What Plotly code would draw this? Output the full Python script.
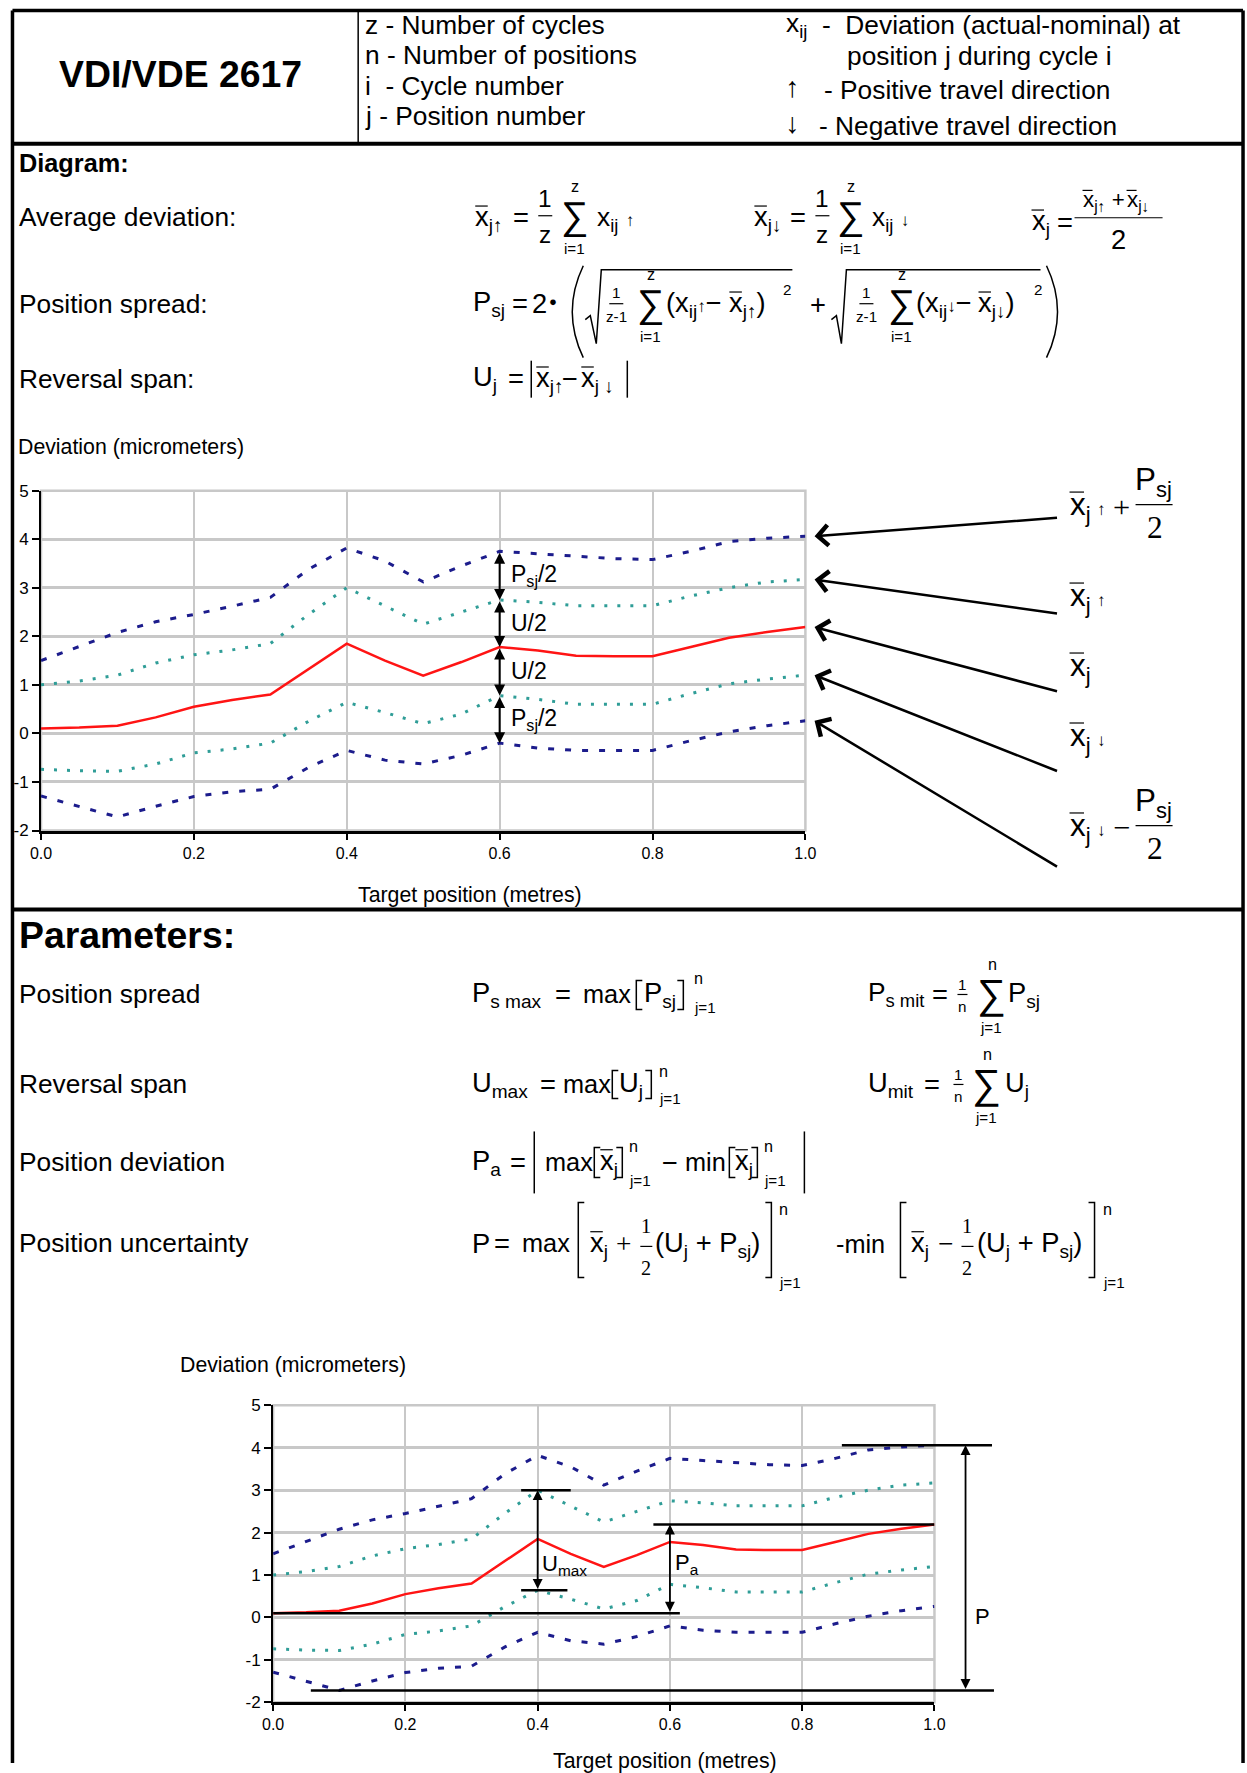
import plotly.graph_objects as go

# ---------------- data ----------------
positions = [0.00, 0.05, 0.10, 0.15, 0.20, 0.25, 0.30, 0.35, 0.40, 0.45, 0.50,
             0.55, 0.60, 0.65, 0.70, 0.75, 0.80, 0.85, 0.90, 0.95, 1.00]
# x̄j↑ + Psj/2
upper_limit = [1.50, 1.79, 2.08, 2.30, 2.45, 2.62, 2.80, 3.38, 3.82, 3.55, 3.12,
               3.45, 3.75, 3.70, 3.65, 3.60, 3.58, 3.75, 3.95, 4.02, 4.06]
# x̄j↑
upper_mean = [1.00, 1.08, 1.20, 1.45, 1.62, 1.72, 1.85, 2.45, 3.00, 2.62, 2.25,
              2.50, 2.75, 2.70, 2.63, 2.63, 2.63, 2.83, 3.00, 3.12, 3.17]
# x̄j
mean_dev = [0.10, 0.12, 0.16, 0.33, 0.55, 0.69, 0.80, 1.33, 1.85, 1.50, 1.19,
            1.47, 1.78, 1.71, 1.60, 1.59, 1.59, 1.78, 1.97, 2.09, 2.19]
# x̄j↓
lower_mean = [-0.74, -0.77, -0.78, -0.63, -0.40, -0.32, -0.20, 0.25, 0.64, 0.43, 0.20,
              0.40, 0.78, 0.70, 0.60, 0.60, 0.60, 0.82, 1.02, 1.12, 1.20]
# x̄j↓ − Psj/2
lower_limit = [-1.29, -1.50, -1.72, -1.50, -1.30, -1.20, -1.15, -0.70, -0.35, -0.55, -0.63,
               -0.45, -0.20, -0.30, -0.35, -0.35, -0.35, -0.15, 0.03, 0.16, 0.26]

x_ticks = [0.0, 0.2, 0.4, 0.6, 0.8, 1.0]
x_tick_labels = ["0.0", "0.2", "0.4", "0.6", "0.8", "1.0"]
y_ticks = [-2, -1, 0, 1, 2, 3, 4, 5]
y_tick_labels = ["-2", "-1", "0", "1", "2", "3", "4", "5"]

spread_labels = ["P<sub>sj</sub>/2", "U/2", "U/2", "P<sub>sj</sub>/2"]
marked_position = 0.6

# ---------------- layout helpers ----------------
# figure size and the mapping page-pixel -> figure-pixel (measured on the rendered page)
W, H = 1256, 1773
OX, SX = 11.0, 0.982
OY, SY = 9.2, 0.9896
FS = 1.012          # font compensation
FONT = "Liberation Sans, Arial, sans-serif"
SERIF = "Liberation Serif, Times New Roman, serif"
NAVY = "#1c1c8c"
TEAL = "#2f9d97"
RED = "#ff1414"
GRID = "#c8c8c8"

X1 = (41, 805)     # chart 1 plot area, page px
Y1 = (491, 831)
X2 = (273, 934)    # chart 2 plot area, page px
Y2 = (1406, 1703)


def px(x):
    return ((x - OX) / SX) / W


def py(y):
    return 1 - ((y - OY) / SY) / H


annotations = []
shapes = []


def T(x, y, s, size=26, anchor="left", family=FONT):
    annotations.append(dict(x=px(x), y=py(y), xref="paper", yref="paper", text=s,
                            showarrow=False, xanchor=anchor, yanchor="middle",
                            font=dict(family=family, size=round(size * FS, 1), color="black")))


def PL(x0, y0, x1, y1, w=1.5):
    shapes.append(dict(type="line", xref="paper", yref="paper", x0=px(x0), y0=py(y0),
                       x1=px(x1), y1=py(y1), line=dict(color="black", width=w)))


def FL(x0, y0, x1, y1, w=4):
    """line in raw paper fractions (page frame at the figure edges)"""
    shapes.append(dict(type="line", xref="paper", yref="paper", x0=x0, y0=y0, x1=x1, y1=y1,
                       line=dict(color="black", width=w)))


def PATH(d, w=1.5):
    res = []
    is_x = True
    for t in d.split():
        if t.isalpha():
            res.append(t)
            is_x = True
        else:
            v = float(t)
            res.append(f"{px(v):.5f}" if is_x else f"{py(v):.5f}")
            is_x = not is_x
    shapes.append(dict(type="path", xref="paper", yref="paper", path=" ".join(res),
                       line=dict(color="black", width=w)))


def XB(x, y, rest="", size=27):
    """x with an overline bar"""
    T(x, y, "x" + rest, size)
    top = y - 0.47 * size
    PL(x + 2, top, x + 1 + 0.5 * size, top, 1.2)


def SUM(cx, cy, top, bottom, size=38):
    T(cx, cy, "∑", size, "center")
    T(cx + 1, cy - 30, top, 16, "center")
    T(cx, cy + 33, bottom, 15, "center")


def FRAC(cx, y, num, den, half, size=17, gap=11, family=FONT):
    T(cx, y - gap, num, size, "center", family)
    PL(cx - half, y, cx + half, y, 1.2)
    T(cx, y + gap + 2, den, size, "center", family)


def LBRK(x, y0, y1, w=1.5):
    PATH(f"M {x+6} {y0} L {x} {y0} L {x} {y1} L {x+6} {y1}", w)


def RBRK(x, y0, y1, w=1.5):
    PATH(f"M {x-6} {y0} L {x} {y0} L {x} {y1} L {x-6} {y1}", w)


# ---------------- page frame ----------------
left_f, right_f, top_f = 1.5 / W, 1 - 2.0 / W, 1 - 1.5 / H
FL(left_f, top_f, right_f, top_f, 3.5)
FL(left_f, 0, left_f, top_f, 3.5)
FL(right_f, 0, right_f, top_f, 3.5)
FL(left_f, py(144), right_f, py(144), 4)
FL(left_f, py(910), right_f, py(910), 4)
PL(358, 10, 358, 144, 1.5)

# ---------------- header ----------------
T(180, 74, "<b>VDI/VDE 2617</b>", 37, "center")
T(363, 25, "z - Number of cycles")
T(363, 55, "n - Number of positions")
T(363, 86, "i\u00a0 - Cycle number")
T(363, 116, "j - Position number")
T(784, 25, "x<sub>ij</sub>")
T(820, 25, "-\u00a0 Deviation (actual-nominal) at")
T(845, 56, "position j during cycle i")
T(783, 87, "↑", 28)
T(822, 90, "- Positive travel direction")
T(783, 123, "↓", 28)
T(817, 126, "- Negative travel direction")

# ---------------- diagram formulas ----------------
T(17, 163, "<b>Diagram:</b>", 25)
T(17, 217, "Average deviation:")
T(17, 304, "Position spread:")
T(17, 379, "Reversal span:")

ARW = "<span style='font-size:17px'>↑</span>"
ARD = "<span style='font-size:17px'>↓</span>"

# x̄j↑ = 1/z Σ xij↑     and    x̄j↓ = 1/z Σ xij↓
for xs, a_sub, arr in (((473, 521, 545, 574, 595), "↑", ARW),
                       ((752, 798, 822, 850, 870), "↓", ARD)):
    XB(xs[0], 219, "<sub>j" + a_sub + "</sub>")
    T(xs[1], 218, "=", 27, "center")
    FRAC(xs[2], 216, "1", "z", 7, 24, 17)
    SUM(xs[3], 216, "z", "i=1")
    T(xs[4], 219, "x<sub>ij</sub> " + arr)

# x̄j = (x̄j↑ + x̄j↓)/2
XB(1029, 223, "<sub>j</sub>")
T(1064, 223, "=", 27, "center")
XB(1080, 201, "<sub>j↑</sub> +", 22)
XB(1124, 201, "<sub>j↓</sub>", 22)
PL(1074, 218, 1162, 218, 1.2)
T(1118, 240, "2", 27, "center")

# Psj
T(471, 304, "P<sub>sj</sub>", 27)
T(520, 304, "=", 27, "center")
T(530, 304, "2", 27)
T(547, 302, "●", 13)
PATH("M 583 266 Q 561 312 583 358", 1.5)
PATH("M 585 320 L 590 316 L 596 344 L 601 270 L 792 270", 1.5)
FRAC(616, 304, "1", "z-1", 7, 15, 11)
SUM(650, 304, "z", "i=1")
T(664, 305, "(x<sub>ij</sub>" + ARW + "−", 27)
XB(727, 305, "<sub>j↑</sub>)", 27)
T(781, 290, "2", 15)
T(818, 305, "+", 27, "center")
PATH("M 831 320 L 836 316 L 841 344 L 846 270 L 1040 270", 1.5)
FRAC(866, 304, "1", "z-1", 7, 15, 11)
SUM(901, 304, "z", "i=1")
T(914, 305, "(x<sub>ij</sub>" + ARD + "−", 27)
XB(976, 305, "<sub>j↓</sub>)", 27)
T(1031, 290, "2", 15)
PATH("M 1046 266 Q 1068 312 1046 358", 1.5)

# Uj
T(471, 379, "U<sub>j</sub>", 27)
T(516, 379, "=", 27, "center")
PL(531, 361, 531, 398, 1.5)
XB(534, 380, "<sub>j↑</sub>")
T(570, 379, "−", 27, "center")
XB(579, 380, "<sub>j ↓</sub>")
PL(627, 361, 627, 398, 1.5)

# ---------------- chart titles ----------------
T(16, 447, "Deviation (micrometers)", 21)
T(470, 895, "Target position (metres)", 21, "center")
T(178, 1366, "Deviation (micrometers)", 21)
T(665, 1762, "Target position (metres)", 21, "center")

# right side labels of chart 1
XB(1067, 507, "<sub>j</sub>", 31)
T(1094, 510, ARW)
T(1121, 507, "+", 30, "center", SERIF)
T(1153, 482, "P<sub>sj</sub>", 31, "center")
PL(1135, 505, 1172, 505, 1.2)
T(1154, 528, "2", 31, "center", SERIF)
XB(1067, 598, "<sub>j</sub>", 31)
T(1094, 601, ARW)
XB(1067, 668, "<sub>j</sub>", 31)
XB(1067, 738, "<sub>j</sub>", 31)
T(1094, 741, ARD)
XB(1067, 828, "<sub>j</sub>", 31)
T(1094, 831, ARD)
T(1121, 828, "−", 30, "center", SERIF)
T(1153, 803, "P<sub>sj</sub>", 31, "center")
PL(1135, 826, 1172, 826, 1.2)
T(1154, 849, "2", 31, "center", SERIF)

# ---------------- parameters ----------------
T(17, 935, "<b>Parameters:</b>", 37)
T(17, 995, "Position spread")
T(17, 1085, "Reversal span")
T(17, 1163, "Position deviation")
T(17, 1244, "Position uncertainty")

# Ps max
T(470, 995, "P<sub>s max</sub>", 27)
T(563, 995, "=", 27, "center")
T(581, 995, "max", 25)
LBRK(636, 981, 1010)
T(642, 995, "P<sub>sj</sub>", 27)
RBRK(683, 981, 1010)
T(692, 979, "n", 16)
T(692, 1008, "j=1", 15)
# Ps mit
T(866, 995, "P<sub>s mit</sub>", 26)
T(940, 995, "=", 27, "center")
FRAC(962, 995, "1", "n", 5, 15, 10)
SUM(991, 995, "n", "j=1", 40)
T(1006, 995, "P<sub>sj</sub>", 27)

# Umax
T(470, 1085, "U<sub>max</sub>", 27)
T(548, 1085, "=", 27, "center")
T(561, 1085, "max", 25)
LBRK(612, 1071, 1099)
T(617, 1085, "U<sub>j</sub>", 27)
RBRK(651, 1071, 1099)
T(657, 1072, "n", 16)
T(657, 1099, "j=1", 15)
# Umit
T(866, 1085, "U<sub>mit</sub>", 27)
T(932, 1085, "=", 27, "center")
FRAC(958, 1085, "1", "n", 5, 15, 10)
SUM(986, 1085, "n", "j=1", 40)
T(1003, 1085, "U<sub>j</sub>", 27)

# Pa
T(470, 1163, "P<sub>a</sub>", 27)
T(518, 1163, "=", 27, "center")
PL(534, 1132, 534, 1194, 1.5)
T(543, 1163, "max", 25)
LBRK(594, 1148, 1178)
XB(598, 1163, "<sub>j</sub>", 27)
RBRK(622, 1148, 1178)
T(627, 1147, "n", 16)
T(627, 1181, "j=1", 15)
T(670, 1163, "−", 27, "center")
T(683, 1163, "min", 25)
LBRK(729, 1148, 1178)
XB(733, 1163, "<sub>j</sub>", 27)
RBRK(757, 1148, 1178)
T(762, 1147, "n", 16)
T(762, 1181, "j=1", 15)
PL(804, 1132, 804, 1194, 1.5)

# P
T(470, 1244, "P", 27)
T(502, 1244, "=", 27, "center")
T(520, 1244, "max", 25)
LBRK(578, 1203, 1278)
XB(588, 1245, "<sub>j</sub>", 27)
T(623, 1245, "+", 27, "center", SERIF)
FRAC(646, 1247, "1", "2", 6, 20, 20, SERIF)
T(653, 1245, "(U<sub>j</sub> + P<sub>sj</sub>)", 27)
RBRK(771, 1203, 1278)
T(777, 1210, "n", 16)
T(777, 1283, "j=1", 15)
T(834, 1245, "-min", 25)
LBRK(900, 1203, 1278)
XB(909, 1245, "<sub>j</sub>", 27)
T(945, 1245, "−", 27, "center", SERIF)
FRAC(967, 1247, "1", "2", 6, 20, 20, SERIF)
T(975, 1245, "(U<sub>j</sub> + P<sub>sj</sub>)", 27)
RBRK(1094, 1203, 1278)
T(1100, 1210, "n", 16)
T(1100, 1283, "j=1", 15)

# ---------------- charts ----------------
fig = go.Figure()
series = [
    (upper_mean, dict(color=TEAL, width=3, dash="3px,10px")),
    (lower_mean, dict(color=TEAL, width=3, dash="3px,10px")),
    (upper_limit, dict(color=NAVY, width=3, dash="6px,11px")),
    (lower_limit, dict(color=NAVY, width=3, dash="6px,11px")),
    (mean_dev, dict(color=RED, width=2.5)),
]
for xa, ya in (("x", "y"), ("x2", "y2")):
    for vals, ln in series:
        fig.add_trace(go.Scatter(x=positions, y=vals, xaxis=xa, yaxis=ya, mode="lines",
                                 line=ln, hoverinfo="skip", showlegend=False))
# helper traces for the extended (annotation) axes
for xa, ya in (("x3", "y3"), ("x4", "y4")):
    fig.add_trace(go.Scatter(x=[0], y=[0], xaxis=xa, yaxis=ya, mode="markers",
                             marker=dict(opacity=0), hoverinfo="skip", showlegend=False))


def xcfg(xr, anchor):
    return dict(domain=[px(xr[0]), px(xr[1])], anchor=anchor, range=[0, 1], type="linear",
                tickmode="array", tickvals=x_ticks, ticktext=x_tick_labels,
                showgrid=True, gridcolor=GRID, gridwidth=1.5, zeroline=False,
                showline=True, linecolor="black", linewidth=3, ticks="outside", ticklen=6,
                tickwidth=1.5, tickcolor="black",
                tickfont=dict(family=FONT, size=16, color="black"), fixedrange=True)


def ycfg(yr, anchor):
    return dict(domain=[py(yr[1]), py(yr[0])], anchor=anchor, range=[-2, 5], type="linear",
                tickmode="array", tickvals=y_ticks, ticktext=y_tick_labels,
                showgrid=True, gridcolor=GRID, gridwidth=2.5, zeroline=False,
                showline=True, linecolor="black", linewidth=2, ticks="outside", ticklen=7,
                tickwidth=1.5, tickcolor="black",
                tickfont=dict(family=FONT, size=17, color="black"), fixedrange=True)


def ext_x(xr, anchor):
    d0, d1 = px(xr[0]), px(xr[1])
    span = (1.0 - d0) / (d1 - d0)
    return dict(domain=[d0, 1.0], anchor=anchor, range=[0, span], type="linear",
                visible=False, fixedrange=True)


def ext_y(yr, anchor):
    return dict(domain=[py(yr[1]), py(yr[0])], anchor=anchor, range=[-2, 5], type="linear",
                visible=False, fixedrange=True)


# gray frame (top / right grid edges) of both plot areas
for xa, ya in (("x", "y"), ("x2", "y2")):
    shapes.append(dict(type="rect", xref=f"{xa} domain", yref=f"{ya} domain", x0=0, x1=1,
                       y0=0, y1=1, line=dict(color=GRID, width=2.5), layer="below"))

# ---- chart 1 annotations: arrows at the marked position ----
idx = positions.index(marked_position)
levels = [upper_limit[idx], upper_mean[idx], mean_dev[idx], lower_mean[idx], lower_limit[idx]]
for k in range(4):
    annotations.append(dict(x=marked_position, y=levels[k + 1], ax=marked_position, ay=levels[k],
                            xref="x", yref="y", axref="x", ayref="y", text="", showarrow=True,
                            arrowside="end+start", arrowhead=2, startarrowhead=2,
                            arrowsize=1.1, startarrowsize=1.1, arrowwidth=2, arrowcolor="black"))
    annotations.append(dict(x=marked_position + 0.012, y=(levels[k] + levels[k + 1]) / 2,
                            xref="x", yref="y", text=spread_labels[k], showarrow=False,
                            xanchor="left", yanchor="middle",
                            font=dict(family=FONT, size=23, color="black")))


# ---- chart 1 pointer arrows from the labels on the right ----
def y1_from_px(p):
    return 5 - (p - Y1[0]) * 7 / (Y1[1] - Y1[0])


def x1_from_px(p):
    return (p - X1[0]) / (X1[1] - X1[0])


ends = [upper_limit[-1], upper_mean[-1], mean_dev[-1], lower_mean[-1], lower_limit[-1]]
tails = [518, 614, 692, 772, 868]
for e, t in zip(ends, tails):
    annotations.append(dict(x=positions[-1] + 0.012, y=e, ax=x1_from_px(1058), ay=y1_from_px(t),
                            xref="x3", yref="y3", axref="x3", ayref="y3", text="",
                            showarrow=True, arrowhead=4, arrowsize=1.6, arrowwidth=2.5,
                            arrowcolor="black"))

# ---- chart 2 annotations ----
U = [a - b for a, b in zip(upper_mean, lower_mean)]
iu = U.index(max(U))
xu = positions[iu]
for v, x_end in ((upper_mean[iu], xu + 0.05), (lower_mean[iu], xu + 0.045)):
    shapes.append(dict(type="line", xref="x2", yref="y2", x0=xu - 0.025, x1=x_end, y0=v, y1=v,
                       line=dict(color="black", width=2.5)))
annotations.append(dict(x=xu, y=upper_mean[iu], ax=xu, ay=lower_mean[iu], xref="x2", yref="y2",
                        axref="x2", ayref="y2", text="", showarrow=True, arrowside="end+start",
                        arrowhead=2, startarrowhead=2, arrowsize=1.1, startarrowsize=1.1,
                        arrowwidth=1.8, arrowcolor="black"))
annotations.append(dict(x=xu + 0.003, y=lower_mean[iu] + 0.25 * U[iu], xref="x2", yref="y2",
                        text="U<sub>max</sub>", showarrow=False, xanchor="left",
                        font=dict(family=FONT, size=22, color="black")))

pa_x = marked_position
lo_m, hi_m = min(mean_dev), max(mean_dev)
shapes.append(dict(type="line", xref="x2", yref="y2", x0=0, x1=pa_x + 0.015, y0=lo_m, y1=lo_m,
                   line=dict(color="black", width=2.5)))
shapes.append(dict(type="line", xref="x2", yref="y2", x0=pa_x - 0.025, x1=1.0, y0=hi_m, y1=hi_m,
                   line=dict(color="black", width=2.5)))
annotations.append(dict(x=pa_x, y=hi_m, ax=pa_x, ay=lo_m, xref="x2", yref="y2", axref="x2",
                        ayref="y2", text="", showarrow=True, arrowside="end+start", arrowhead=2,
                        startarrowhead=2, arrowsize=1.1, startarrowsize=1.1, arrowwidth=1.8,
                        arrowcolor="black"))
annotations.append(dict(x=pa_x + 0.004, y=lo_m + 0.55 * (hi_m - lo_m), xref="x2", yref="y2",
                        text="P<sub>a</sub>", showarrow=False, xanchor="left",
                        font=dict(family=FONT, size=22, color="black")))

hi_p, lo_p = max(upper_limit), min(lower_limit)
shapes.append(dict(type="line", xref="x4", yref="y4", x0=0.86, x1=1.087, y0=hi_p, y1=hi_p,
                   line=dict(color="black", width=2.5)))
shapes.append(dict(type="line", xref="x4", yref="y4", x0=0.057, x1=1.09, y0=lo_p, y1=lo_p,
                   line=dict(color="black", width=2.5)))
annotations.append(dict(x=1.047, y=hi_p, ax=1.047, ay=lo_p, xref="x4", yref="y4", axref="x4",
                        ayref="y4", text="", showarrow=True, arrowside="end+start", arrowhead=2,
                        startarrowhead=2, arrowsize=1.1, startarrowsize=1.1, arrowwidth=1.8,
                        arrowcolor="black"))
annotations.append(dict(x=1.058, y=lo_p + 0.3 * (hi_p - lo_p), xref="x4", yref="y4", text="P",
                        showarrow=False, xanchor="left",
                        font=dict(family=FONT, size=22, color="black")))

fig.update_layout(
    width=W, height=H, autosize=False,
    margin=dict(l=0, r=0, t=0, b=0, pad=0),
    paper_bgcolor="white", plot_bgcolor="rgba(0,0,0,0)",
    showlegend=False,
    font=dict(family=FONT, color="black"),
    xaxis=xcfg(X1, "y"), yaxis=ycfg(Y1, "x"),
    xaxis2=xcfg(X2, "y2"), yaxis2=ycfg(Y2, "x2"),
    xaxis3=ext_x(X1, "y3"), yaxis3=ext_y(Y1, "x3"),
    xaxis4=ext_x(X2, "y4"), yaxis4=ext_y(Y2, "x4"),
    annotations=annotations, shapes=shapes,
)

fig.write_html("out.html")
